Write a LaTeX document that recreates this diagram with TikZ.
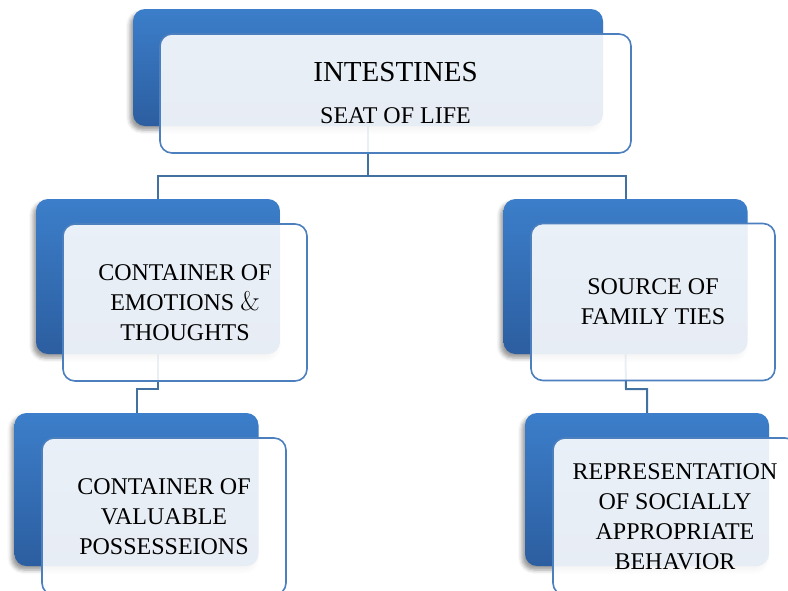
\documentclass[tikz,border=0pt]{standalone}
\usepackage{fontspec}
\setmainfont{Liberation Serif}
\newfontfamily\lmfont{Latin Modern Roman}
\usetikzlibrary{shadows.blur}
\pgfdeclarelayer{background}
\pgfsetlayers{background,main}
\definecolor{bluetop}{RGB}{60,126,202}
\definecolor{bluebot}{RGB}{44,94,160}
\definecolor{frontedge}{RGB}{76,127,190}
\definecolor{connclr}{RGB}{65,113,160}
\tikzset{
  bluebox/.style={rounded corners=12pt, top color=bluetop, bottom color=bluebot, draw=none,
    blur shadow={shadow xshift=-3pt, shadow yshift=-4pt, shadow blur radius=4pt, shadow opacity=40},
    inner sep=0pt, outer sep=0pt, minimum width=244pt, minimum height=155pt},
  frontbox/.style={rounded corners=12pt, fill=white, fill opacity=0.89, text opacity=1,
    draw=frontedge, draw opacity=1, line width=1.6pt, align=center, inner sep=0pt, outer sep=0pt,
    minimum width=244pt, minimum height=157pt, font=\fontsize{24}{30}\selectfont},
  conn/.style={draw=connclr, line width=2pt}
}
\begin{document}
\begin{tikzpicture}[x=1pt, y=-1pt]
\useasboundingbox (0,0) rectangle (788,590);
% named coordinates for elbows
\coordinate (h1) at (368,176);
\coordinate (h2) at (158,389);
\coordinate (h3) at (626,389);
% back boxes
\node[bluebox, minimum width=470pt, minimum height=117pt] (topb) at (368,67.5) {};
\node[bluebox] (lcb) at (158,276.5) {};
\node[bluebox] (rcb) at (625.5,276.5) {};
\node[bluebox, minimum height=153pt] (lgb) at (136.5,489.5) {};
\node[bluebox, minimum height=153pt] (rgb) at (647,489.5) {};
% connectors (behind boxes)
\begin{pgfonlayer}{background}
\draw[conn] (topb.south) -- (h1) -| (lcb.north);
\draw[conn] (h1) -| (rcb.north);
\draw[conn] (lcb.south) -- (h2) -| (lgb.north);
\draw[conn] (rcb.south) -- (h3) -| (rgb.north);
\end{pgfonlayer}
% front boxes
\node[frontbox, minimum width=471pt, minimum height=119pt] (topf) at (395.5,93.5)
  {{\fontsize{29}{35}\selectfont INTESTINES}\\[12pt]SEAT OF LIFE};
\node[frontbox] (lcf) at (185,302.5) {CONTAINER OF\\EMOTIONS {\lmfont\fontsize{27}{30}\selectfont\&}\\THOUGHTS};
\node[frontbox] (rcf) at (653,302) {SOURCE OF\\FAMILY TIES};
\node[frontbox] (lgf) at (164,516.5) {CONTAINER OF\\VALUABLE\\POSSESSEIONS};
\node[frontbox] (rgf) at (675,516.5) {REPRESENTATION\\OF SOCIALLY\\APPROPRIATE\\BEHAVIOR};
\end{tikzpicture}
\end{document}
